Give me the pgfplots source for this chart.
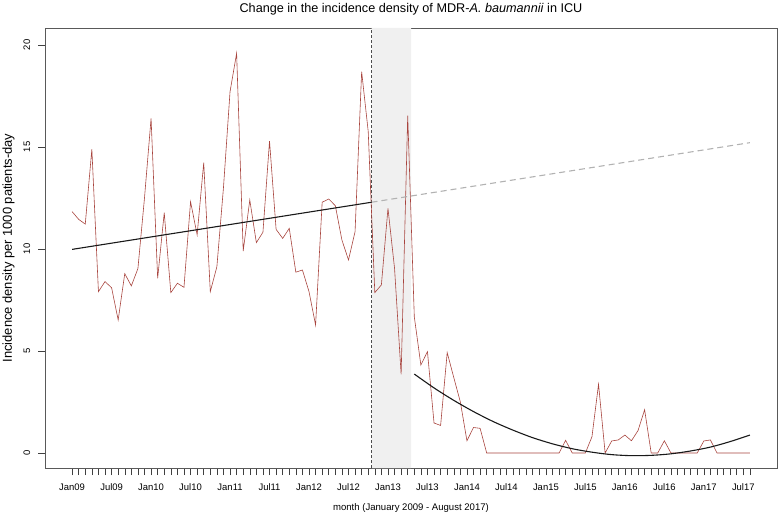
\documentclass[border=0pt]{standalone}
\usepackage{fontspec}
\setmainfont{Liberation Sans}
\usepackage{pgfplots}
\pgfplotsset{compat=1.18}
\definecolor{dataline}{RGB}{168,68,62}
\definecolor{shade}{RGB}{240,240,240}
\begin{document}
\begin{tikzpicture}
\useasboundingbox (-45bp,-48bp) rectangle (733bp,468bp);
\begin{axis}[
  at={(0,0)}, anchor=south west,
  scale only axis, width=732bp, height=440bp,
  xmin=-4.12, xmax=107.12, ymin=-0.735, ymax=20.83,
  axis line style={black!65, line width=0.6pt},
  tick style={black!75, line width=0.5pt},
  tick align=outside, major tick length=7bp, minor tick length=7bp,
  xtick={0,6,...,102},
  xticklabels={Jan09,Jul09,Jan10,Jul10,Jan11,Jul11,Jan12,Jul12,Jan13,Jul13,Jan14,Jul14,Jan15,Jul15,Jan16,Jul16,Jan17,Jul17},
  minor xtick={0,1,...,103},
  xtick pos=bottom, ytick pos=left,
  ytick={0,5,10,15,20},
  /pgf/number format/assume math mode=true,
  ticklabel style={font=\fontsize{9.5}{11}\selectfont},
  yticklabel style={xshift=-8bp, rotate=90, anchor=base},
  xticklabel style={anchor=base, yshift=-15bp},
  title={Change in the incidence density of MDR-\textit{A. baumannii} in ICU},
  title style={at={(rel axis cs:0.5,1.0357)}, anchor=base, yshift=-6pt, font=\fontsize{12.7}{14}\selectfont},
  xlabel={month (January 2009 - August 2017)},
  xlabel style={at={(rel axis cs:0.5,-0.0955)}, anchor=base, font=\fontsize{9.6}{12}\selectfont},
  ylabel={Incidence density per 1000 patients-day},
  ylabel style={at={(rel axis cs:-0.0451,0.5)}, anchor=base, font=\fontsize{13}{15}\selectfont},
  clip=true,
]
\addplot[fill=shade, draw=none, forget plot] coordinates {(45.5,-0.735) (51.5,-0.735) (51.5,20.83) (45.5,20.83)} \closedcycle;
\addplot[black!70, dashed, dash pattern=on 3bp off 2bp, line width=0.6pt] coordinates {(45.5,-0.735) (45.5,20.83)};
\addplot[dataline, line width=0.6pt] coordinates {
(0,11.83)(1,11.45)(2,11.22)(3,14.89)(4,7.91)(5,8.40)(6,8.10)(7,6.52)(8,8.79)(9,8.19)
(10,9.04)(11,12.5)(12,16.4)(13,8.56)(14,11.78)(15,7.86)(16,8.32)(17,8.12)(18,12.32)(19,10.69)
(20,14.23)(21,7.91)(22,9.13)(23,13.0)(24,17.71)(25,19.59)(26,9.9)(27,12.40)(28,10.31)(29,10.82)
(30,15.29)(31,10.96)(32,10.52)(33,11.01)(34,8.86)(35,8.97)(36,7.91)(37,6.27)(38,12.29)(39,12.45)
(40,12.12)(41,10.44)(42,9.46)(43,10.85)(44,18.69)(45,15.75)(46,7.86)(47,8.24)(48,11.99)(49,9.05)
(50,3.86)(51,16.54)(52,6.68)(53,4.31)(54,4.97)(55,1.47)(56,1.35)(57,4.92)(58,3.7)(59,2.5)
(60,0.60)(61,1.25)(62,1.21)(63,0)(64,0)(65,0)(66,0)(67,0)(68,0)(69,0)
(70,0)(71,0)(72,0)(73,0)(74,0)(75,0.62)(76,0)(77,0)(78,0)(79,0.8)
(80,3.37)(81,0)(82,0.59)(83,0.64)(84,0.88)(85,0.6)(86,1.1)(87,2.12)(88,0)(89,0)
(90,0.6)(91,0)(92,0)(93,0)(94,0)(95,0)(96,0.59)(97,0.64)(98,0)(99,0)
(100,0)(101,0)(102,0)(103,0)
};
\addplot[black!30, dashed, dash pattern=on 6bp off 4bp, line width=1.1pt] coordinates {(45.5,12.29) (103,15.21)};
\addplot[black!90, line width=1.1pt] coordinates {(0,9.98) (45.5,12.29)};
\addplot[black!90, line width=1.1pt, smooth] coordinates {
(52,3.87)(55,3.19)(58,2.58)(61,2.03)(64,1.54)(67,1.12)(70,0.75)(73,0.45)(76,0.21)(79,0.04)
(82,-0.08)(85,-0.13)(88,-0.115)(91,-0.04)(94,0.10)(97,0.29)(100,0.56)(103,0.88)};
\end{axis}
\end{tikzpicture}
\end{document}
